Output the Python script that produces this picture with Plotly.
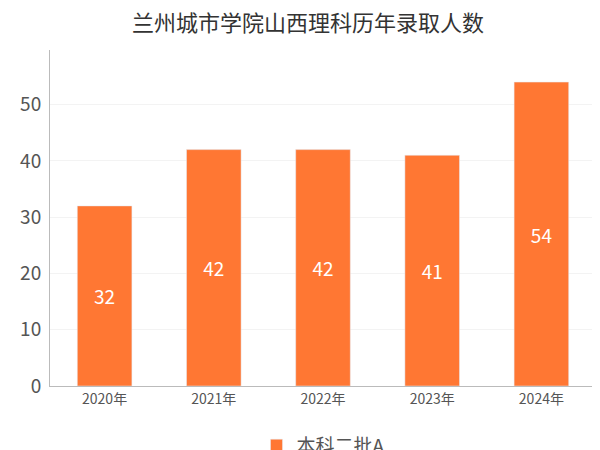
import plotly.graph_objects as go

years = ["2020年", "2021年", "2022年", "2023年", "2024年"]
values = [32, 42, 42, 41, 54]
series_name = "本科二批A"

fig = go.Figure(go.Bar(
    x=years, y=values, name=series_name, marker_color="#FF7733",
    text=[str(v) for v in values], textposition="inside", insidetextanchor="middle",
    textfont=dict(color="white", size=19), width=0.5, showlegend=True))
fig.update_layout(
    width=600, height=450, margin=dict(l=42, r=12, t=42, b=72, autoexpand=False),
    paper_bgcolor="white", plot_bgcolor="white",
    font=dict(family="Noto Sans CJK SC, sans-serif", color="#555"),
    title=dict(text="兰州城市学院山西理科历年录取人数", x=0.5, xanchor="center", y=0.965,
               yanchor="middle", font=dict(size=22, color="#333")),
    xaxis=dict(showline=True, linecolor="#bbb", tickfont=dict(size=14, color="#555"), ticks=""),
    yaxis=dict(range=[0, 59.7], dtick=10, showline=True, linecolor="#bbb", showgrid=True,
               gridcolor="#f3f3f3", zeroline=False, tickfont=dict(size=19, color="#555"),
               ticks="outside", ticklen=4, tickcolor="white"),
    legend=dict(orientation="h", x=0.5, xanchor="center", y=-0.12, yanchor="top",
                font=dict(size=19, color="#555")),
)
fig.write_html("out.html")
